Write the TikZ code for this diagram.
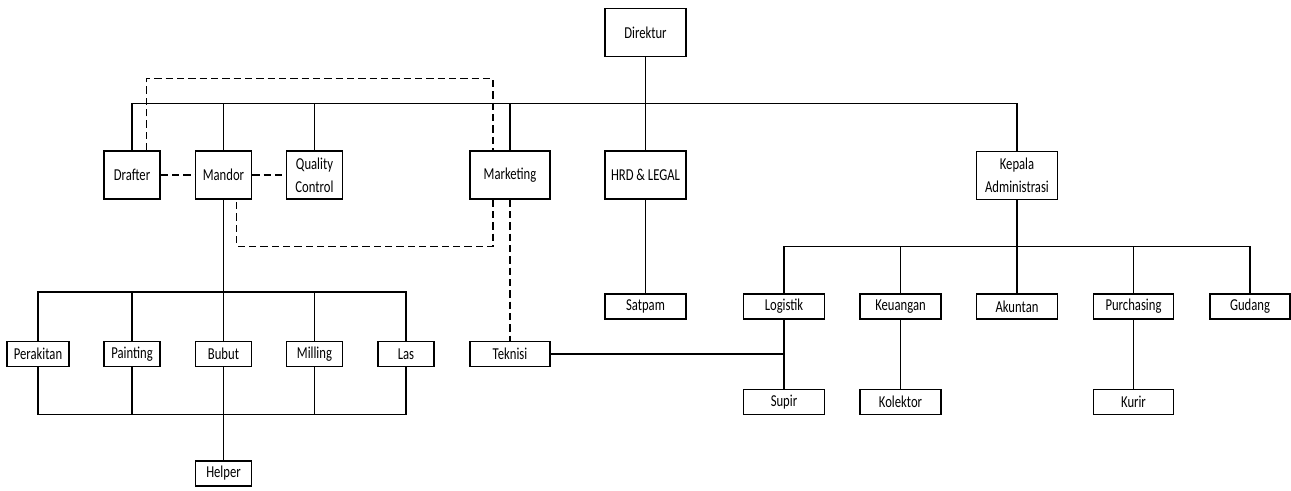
\documentclass[tikz,border=0pt]{standalone}
\usepackage{fontspec}
\setmainfont{Carlito}
\newfontfamily\boxfont[FakeStretch=0.76]{Carlito}
\usetikzlibrary{positioning,calc}

\begin{document}
\begin{tikzpicture}[x=0.75pt, y=-0.75pt, line width=0.9pt,
  box/.style={draw, line width=1.1pt, inner sep=0pt, align=center,
    font=\boxfont\fontsize{12.5}{17}\selectfont, minimum height=#1},
  tall/.style={box=36pt}, flat/.style={box=18.75pt},
  link/.style={dash pattern=on 5.5pt off 3pt}]
  \useasboundingbox (0,0) rectangle (1291,490);

  % top level
  \node[tall, minimum width=60.75pt] (dir)     at (645.5,32.5) {Direktur};
  \node[tall, minimum width=42pt]    (drafter) at (132,175)    {Drafter};
  \node[tall, minimum width=42pt]    (mandor)  at (223.5,175)  {Mandor};
  \node[tall, minimum width=42pt]    (qc)      at (314.5,175)  {Quality\\Control};
  \node[tall, minimum width=60pt]    (mkt)     at (510,175)    {Marketing};
  \node[tall, minimum width=60.75pt] (hrd)     at (645.5,175)  {HRD \& LEGAL};
  \node[tall, minimum width=60.75pt] (kepala)  at (1017,175.5) {Kepala\\Administrasi};

  % workshop
  \node[flat, minimum width=46.5pt] (perakitan) at (38,354)    {Perakitan};
  \node[flat, minimum width=42pt]   (painting)  at (132,354)   {Painting};
  \node[flat, minimum width=42pt]   (bubut)     at (223.5,354) {Bubut};
  \node[flat, minimum width=42pt]   (milling)   at (314.5,354) {Milling};
  \node[flat, minimum width=42pt]   (las)       at (406,354)   {Las};
  \node[flat, minimum width=60pt]   (teknisi)   at (510,354)   {Teknisi};
  \node[flat, minimum width=42pt]   (helper)    at (223.5,473.5) {Helper};

  % administration
  \node[flat, minimum width=60.75pt] (satpam)     at (645.5,306.5)  {Satpam};
  \node[flat, minimum width=60.75pt] (logistik)   at (784,306.5)    {Logistik};
  \node[flat, minimum width=60.75pt] (keuangan)   at (900.5,306.5)  {Keuangan};
  \node[flat, minimum width=60.75pt] (akuntan)    at (1017,306.5)   {Akuntan};
  \node[flat, minimum width=60pt]    (purchasing) at (1133.5,306.5) {Purchasing};
  \node[flat, minimum width=60pt]    (gudang)     at (1250,306.5)   {Gudang};
  \node[flat, minimum width=60.75pt] (supir)      at (784,402)      {Supir};
  \node[flat, minimum width=60.75pt] (kolektor)   at (900.5,402)    {Kolektor};
  \node[flat, minimum width=60pt]    (kurir)      at (1133.5,402)   {Kurir};

  \coordinate (bar)  at (645.5,103.5);
  \coordinate (shop) at (223.5,292);
  \coordinate (base) at (223.5,414.5);
  \coordinate (adm)  at (1017,246.5);

  % solid lines
  \draw (dir) -- (hrd);
  \draw (drafter.north) |- (bar) -| (kepala.north);
  \foreach \n in {mandor,qc,mkt}
    \draw (\n.north) -- (\n.north |- bar);
  \draw (mandor) -- (bubut);
  \draw (bubut) -- (helper);
  \draw (perakitan.north) |- (shop) -| (las.north);
  \draw (perakitan.south) |- (base) -| (las.south);
  \foreach \n in {painting,milling}{
    \draw (\n.north) -- (\n.north |- shop);
    \draw (\n.south) -- (\n.south |- base);
  }
  \draw (hrd) -- (satpam);
  \draw (kepala) -- (akuntan);
  \draw (logistik.north) |- (adm) -| (gudang.north);
  \foreach \n in {keuangan,purchasing}
    \draw (\n.north) -- (\n.north |- adm);
  \draw (logistik) -- (supir);
  \draw (keuangan) -- (kolektor);
  \draw (purchasing) -- (kurir);
  \draw (teknisi.east) -- (teknisi.east -| logistik.south);

  % dashed lines
  \draw[link] (drafter) -- (mandor);
  \draw[link] (mandor) -- (qc);
  \draw[link] ([xshift=10.9pt]drafter.north) -- ++(0,-71.5) -| ([xshift=-12.75pt]mkt.north);
  \draw[link] ([xshift=-12.75pt]mkt.south) -- ++(0,46.5) -| ([xshift=9.75pt]mandor.south);
  \draw[link] (mkt) -- (teknisi);
\end{tikzpicture}
\end{document}
